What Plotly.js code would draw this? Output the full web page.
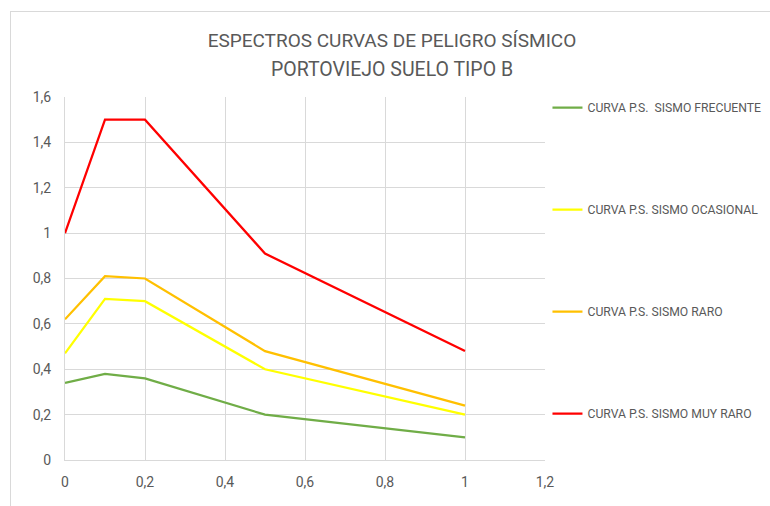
<!DOCTYPE html>
<html>
<head>
<meta charset="utf-8">
<script src="https://cdn.plot.ly/plotly-3.0.1.min.js"></script>
<style>
  html, body { margin: 0; padding: 0; background: #ffffff; }
  #frame { position: absolute; left: 10px; top: 11px; width: 780px; height: 520px;
           border-left: 1px solid #d9d9d9; border-top: 1px solid #d9d9d9; }
  #chart { position: absolute; left: 0; top: 0; width: 770px; height: 506px; }
</style>
</head>
<body>
<div id="frame"></div>
<div id="chart"></div>
<script>
// Period (s)
const periods = [0, 0.1, 0.2, 0.5, 1.0];

const titleLine1 = 'ESPECTROS CURVAS DE PELIGRO SÍSMICO';
const titleLine2 = 'PORTOVIEJO SUELO TIPO B';

const seriesNames = [
  'CURVA P.S.\u00a0\u00a0SISMO FRECUENTE',
  'CURVA P.S. SISMO OCASIONAL',
  'CURVA P.S. SISMO RARO',
  'CURVA P.S. SISMO MUY RARO'
];

const frecuente = [0.34, 0.38, 0.36, 0.20, 0.10];
const ocasional = [0.47, 0.71, 0.70, 0.40, 0.20];
const raro      = [0.62, 0.81, 0.80, 0.48, 0.24];
const muyRaro   = [1.00, 1.50, 1.50, 0.91, 0.48];

const xTicks = [0, 0.2, 0.4, 0.6, 0.8, 1, 1.2];
const yTicks = [0, 0.2, 0.4, 0.6, 0.8, 1, 1.2, 1.4, 1.6];

const colors = ['#70ad47', '#ffff00', '#ffc000', '#ff0000'];
const values = [frecuente, ocasional, raro, muyRaro];

const traces = values.map((v, i) => ({
  x: periods,
  y: v,
  type: 'scatter',
  mode: 'lines',
  name: seriesNames[i],
  legendgroup: 'g' + i,
  line: { color: colors[i], width: 2.25 }
}));

const gray = '#595959';
const grid = '#d9d9d9';
const fam = 'Roboto, sans-serif';

const layout = {
  width: 770,
  height: 506,
  paper_bgcolor: 'rgba(0,0,0,0)',
  plot_bgcolor: 'rgba(0,0,0,0)',
  separators: ',.',
  margin: { l: 65, r: 225, t: 97, b: 46, autoexpand: false },
  title: {
    text: titleLine1,
    font: { family: fam, size: 19, color: gray },
    xref: 'container', x: 0.509, xanchor: 'center',
    yref: 'container', y: 0.921, yanchor: 'middle'
  },
  annotations: [{
    text: titleLine2,
    font: { family: fam, size: 19.5, color: gray },
    xref: 'paper', x: 0.681, xanchor: 'center',
    yref: 'paper', y: 1.0744, yanchor: 'middle',
    showarrow: false
  }],
  xaxis: {
    range: [0, 1.2],
    tickvals: xTicks,
    showgrid: true, gridcolor: grid, gridwidth: 1,
    showline: true, linecolor: grid, linewidth: 1,
    zeroline: false, ticks: '',
    ticklabelstandoff: 9,
    tickfont: { family: fam, size: 14, color: gray }
  },
  yaxis: {
    range: [0, 1.6],
    tickvals: yTicks,
    showgrid: true, gridcolor: grid, gridwidth: 1,
    showline: true, linecolor: grid, linewidth: 1,
    zeroline: false, ticks: '',
    ticklabelstandoff: 10,
    tickfont: { family: fam, size: 14, color: gray }
  },
  showlegend: true,
  legend: {
    xref: 'container', x: 0.711, xanchor: 'left',
    yref: 'container', y: 0.816, yanchor: 'top',
    tracegroupgap: 83,
    itemwidth: 30,
    maxheight: 1,
    font: { family: fam, size: 12.2, color: gray },
    bgcolor: 'rgba(0,0,0,0)'
  }
};

Plotly.newPlot('chart', traces, layout, { displayModeBar: false, staticPlot: true });
</script>
</body>
</html>
